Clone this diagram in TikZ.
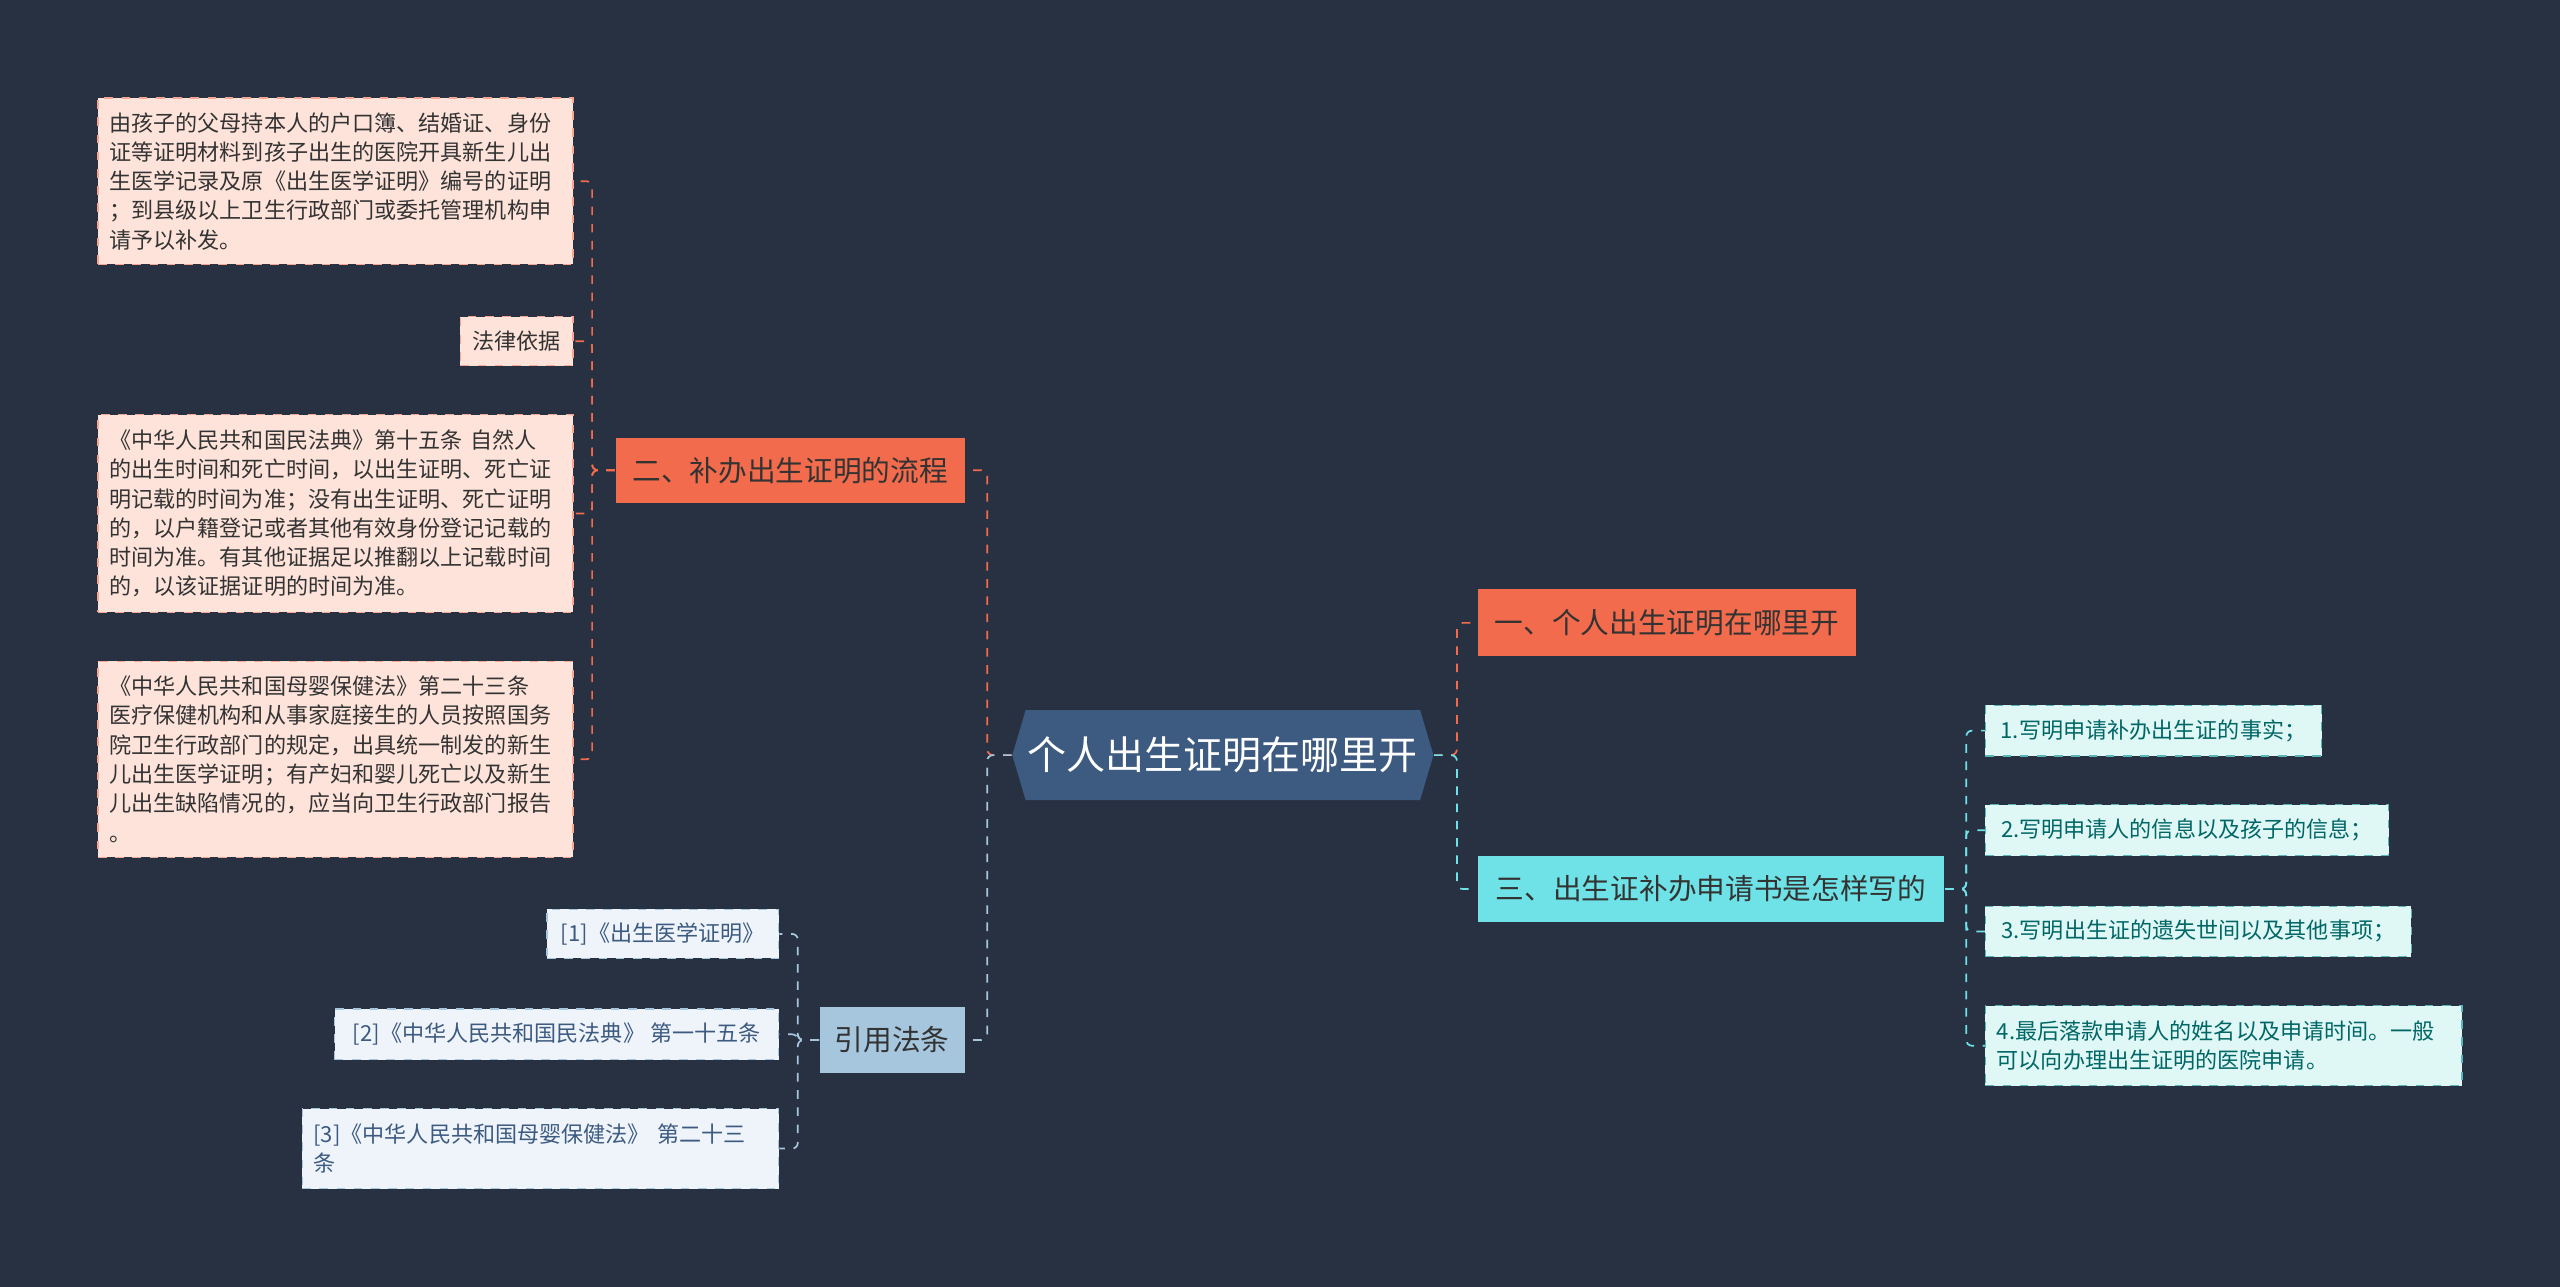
\documentclass[tikz,border=0pt]{standalone}
\usepackage{fontspec}
\setmainfont{Noto Sans CJK SC}
\usetikzlibrary{shapes.symbols}
\definecolor{bgc}{HTML}{283142}
\definecolor{hubc}{HTML}{3D5A80}
\definecolor{orc}{HTML}{F26B4C}
\definecolor{pinkc}{HTML}{FDE3DA}
\definecolor{cyc}{HTML}{6EE2E6}
\definecolor{lcyc}{HTML}{DFF7F5}
\definecolor{citec}{HTML}{A6C6DE}
\definecolor{lcitec}{HTML}{EEF4FA}
\tikzset{
  main/.style={fill=orc, text=black!80, font=\fontsize{10}{12}\selectfont, inner sep=0pt},
  leaf/.style={dashed, inner xsep=0.14cm, inner ysep=0.1cm, align=left, font=\fontsize{7.7}{10.2}\selectfont},
  pinkleaf/.style={leaf, fill=pinkc, draw=orc!60, text=black!80},
  citeleaf/.style={leaf, fill=lcitec, draw=citec, text=hubc},
  cyleaf/.style={leaf, fill=lcyc, draw=cyc!80!black, text=teal!80!black},
  link/.style={dashed, rounded corners=2pt, line width=0.6pt}
}
\begin{document}
\begin{tikzpicture}[x=0.02cm, y=-0.02cm]
\fill[bgc] (0,0) rectangle (1568,788);
\useasboundingbox (0,0) rectangle (1568,788);
% hub and branches
\node[signal, signal to=east and west, signal pointer angle=147, fill=hubc, text=white,
  minimum width=5.16cm, minimum height=1.1cm, inner sep=0pt,
  font=\fontsize{13.6}{16}\selectfont] (hub) at (749,462.5) {个人出生证明在哪里开};
\node[main, minimum width=4.28cm, minimum height=0.8cm] (flow) at (484,288) {二、补办出生证明的流程};
\node[main, minimum width=4.64cm, minimum height=0.82cm] (where) at (1021,381.5) {一、个人出生证明在哪里开};
\node[main, fill=cyc, minimum width=5.72cm, minimum height=0.82cm] (form) at (1048,544.5) {三、出生证补办申请书是怎样写的};
\node[main, fill=citec, minimum width=1.78cm, minimum height=0.8cm] (law) at (546.5,637) {引用法条};
% leaves of flow
\node[pinkleaf, text width=5.54cm, minimum height=2.04cm] (fa) at (205.5,111) {由孩子的父母持本人的户口簿、结婚证、身份\\证等证明材料到孩子出生的医院开具新生儿出\\生医学记录及原《出生医学证明》编号的证明\\；到县级以上卫生行政部门或委托管理机构申\\请予以补发。};
\node[pinkleaf, minimum width=1.38cm, minimum height=0.6cm] (fb) at (316.5,209) {法律依据};
\node[pinkleaf, text width=5.54cm, minimum height=2.42cm] (fc) at (205.5,314.5) {《中华人民共和国民法典》第十五条~自然人\\的出生时间和死亡时间，以出生证明、死亡证\\明记载的时间为准；没有出生证明、死亡证明\\的，以户籍登记或者其他有效身份登记记载的\\时间为准。有其他证据足以推翻以上记载时间\\的，以该证据证明的时间为准。};
\node[pinkleaf, text width=5.54cm, minimum height=2.4cm] (fd) at (205.5,465) {《中华人民共和国母婴保健法》第二十三条\\医疗保健机构和从事家庭接生的人员按照国务\\院卫生行政部门的规定，出具统一制发的新生\\儿出生医学证明；有产妇和婴儿死亡以及新生\\儿出生缺陷情况的，应当向卫生行政部门报告\\。};
% leaves of law
\node[citeleaf, minimum width=2.84cm, minimum height=0.6cm] (la) at (406,572) {[1]《出生医学证明》};
\node[citeleaf, minimum width=5.44cm, minimum height=0.62cm] (lb) at (341,633.5) {[2]《中华人民共和国民法典》~第一十五条};
\node[citeleaf, text width=5.56cm, minimum height=0.98cm] (lc) at (331,703.5) {[3]《中华人民共和国母婴保健法》~第二十三\\条};
% leaves of form
\node[cyleaf, minimum width=4.12cm, minimum height=0.62cm] (ra) at (1319,447.5) {1.写明申请补办出生证的事实；};
\node[cyleaf, minimum width=4.94cm, minimum height=0.62cm] (rb) at (1339.5,508.5) {2.写明申请人的信息以及孩子的信息；};
\node[cyleaf, minimum width=5.22cm, minimum height=0.62cm] (rc) at (1346.5,570.5) {3.写明出生证的遗失世间以及其他事项；};
\node[cyleaf, text width=5.56cm, minimum height=0.98cm] (rd) at (1362,640.5) {4.最后落款申请人的姓名以及申请时间。一般\\可以向办理出生证明的医院申请。};
% links
\draw[link, orc] (hub.west) -- ++(-15,0) |- (flow.east);
\draw[link, citec] (hub.west) -- ++(-15,0) |- (law.east);
\draw[link, orc] (hub.east) -- ++(14,0) |- (where.west);
\draw[link, cyc] (hub.east) -- ++(14,0) |- (form.west);
\foreach \n in {fa,fb,fc,fd}
  \draw[link, orc] (flow.west) -- ++(-14,0) |- (\n.east);
\foreach \n in {la,lb,lc}
  \draw[link, citec] (law.west) -- ++(-13,0) |- (\n.east);
\foreach \n in {ra,rb,rc,rd}
  \draw[link, cyc] (form.east) -- ++(13,0) |- (\n.west);
\end{tikzpicture}
\end{document}
